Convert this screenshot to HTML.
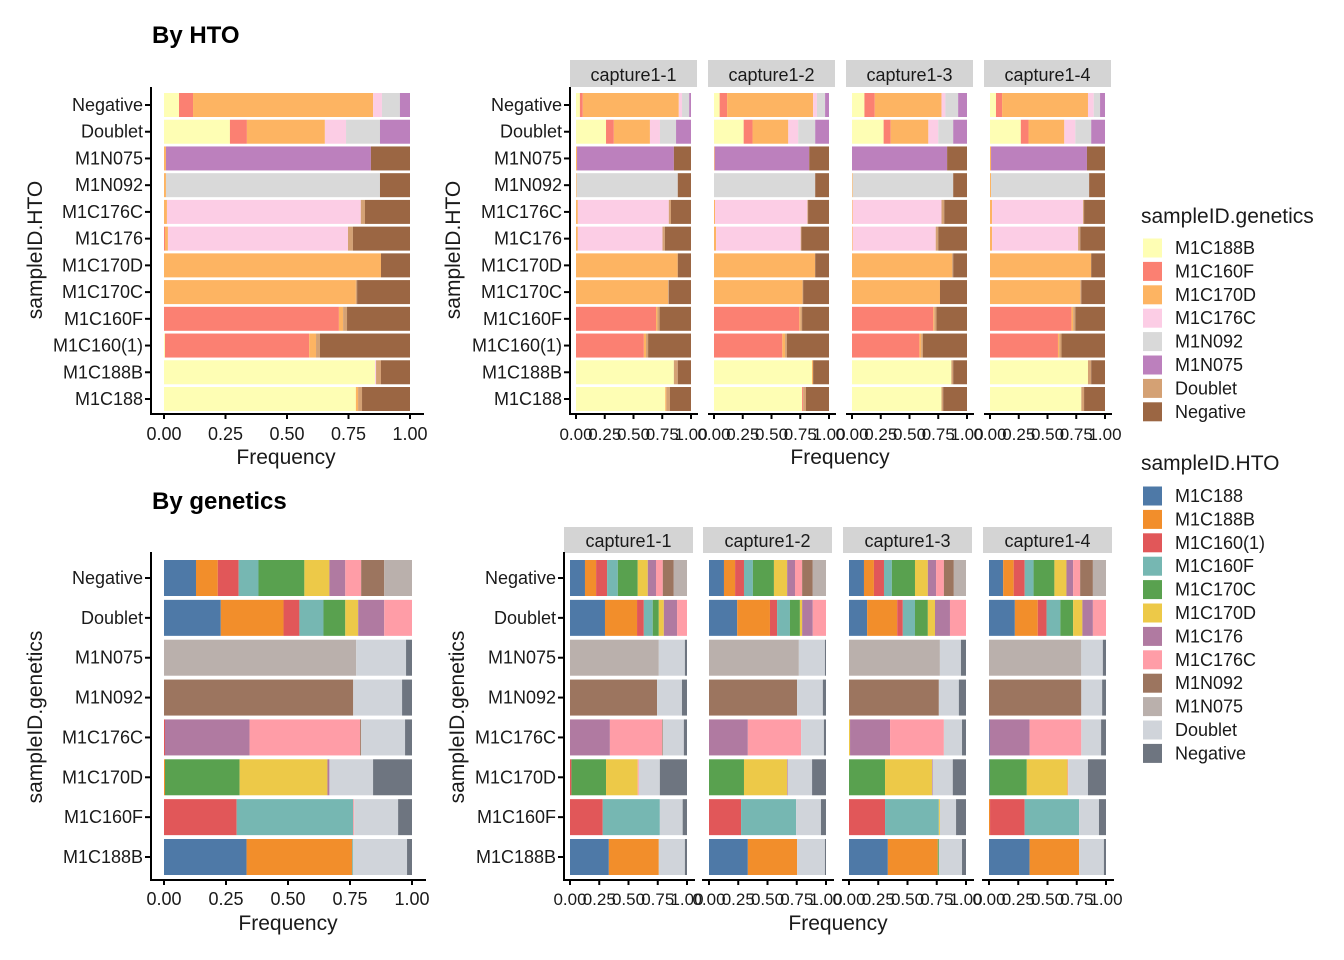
<!DOCTYPE html>
<html><head><meta charset="utf-8"><style>
html,body{margin:0;padding:0;background:#fff;}
svg{display:block;font-family:"Liberation Sans",Arial,sans-serif;}
</style></head><body>
<svg id="chart" width="1344" height="960" viewBox="0 0 1344 960" xmlns="http://www.w3.org/2000/svg">
<rect width="1344" height="960" fill="#fff"/>
<text x="152" y="43" font-size="24" font-weight="bold">By HTO</text>
<text x="152" y="509" font-size="24" font-weight="bold">By genetics</text>
</svg>
<script>
// ---------- categories ----------
const htoRows = ["Negative","Doublet","M1N075","M1N092","M1C176C","M1C176","M1C170D","M1C170C","M1C160F","M1C160(1)","M1C188B","M1C188"];
const genSeries = ["M1C188B","M1C160F","M1C170D","M1C176C","M1N092","M1N075","Doublet","Negative"];
const genColors = ["#FEFEB4","#FB8072","#FDB462","#FCCDE5","#D9D9D9","#BC80BD","#D4A174","#9B6643"];
const genRows = ["Negative","Doublet","M1N075","M1N092","M1C176C","M1C170D","M1C160F","M1C188B"];
const htoSeries = ["M1C188","M1C188B","M1C160(1)","M1C160F","M1C170C","M1C170D","M1C176","M1C176C","M1N092","M1N075","Doublet","Negative"];
const htoColors = ["#4E79A7","#F28E2B","#E15759","#76B7B2","#59A14F","#EDC948","#B07AA1","#FF9DA7","#9C755F","#BAB0AC","#D0D4DA","#6E7580"];
const facetNames = ["capture1-1","capture1-2","capture1-3","capture1-4"];
const xTicks = [0,0.25,0.5,0.75,1];
const xTickLabels = ["0.00","0.25","0.50","0.75","1.00"];

// ---------- By HTO: rows x genetics series ----------
const htoAll = [
[.061,.057,.732,.036,.073,.041,0,0],[.268,.069,.317,.086,.138,.122,0,0],[0,0,.008,0,0,.833,0,.159],[0,0,.008,0,.87,0,0,.122],
[0,0,.012,.788,0,0,.017,.183],[0,.004,.012,.732,0,0,.02,.232],[0,0,.882,0,0,0,0,.118],[0,0,.78,0,0,0,.005,.215],
[0,.711,.017,0,0,0,.016,.256],[.004,.586,.028,0,0,0,.016,.366],[.858,0,0,.004,0,0,.02,.118],[.78,0,.009,0,0,0,.016,.195]];
const htoCap1 = [
[.034,.025,.835,.028,.062,.016,0,0],[.261,.068,.314,.087,.14,.13,0,0],[0,0,.009,0,0,.842,0,.149],[0,0,.006,0,.879,0,0,.115],
[0,0,.016,.791,0,0,.019,.174],[0,0,.016,.736,0,0,.021,.227],[0,0,.885,0,0,0,0,.115],[0,0,.801,0,0,0,.006,.193],
[0,.696,.012,0,0,0,.019,.273],[0,.59,.019,0,0,0,.018,.373],[.851,0,0,0,0,0,.034,.115],[.776,0,.01,0,0,0,.031,.183]];
const htoCap2 = [
[.049,.065,.748,.033,.071,.034,0,0],[.258,.077,.311,.086,.148,.12,0,0],[0,0,.006,0,0,.822,0,.172],[0,0,0,0,.88,0,0,.12],
[0,0,.009,.803,0,0,.006,.182],[0,0,.018,.736,0,0,.006,.24],[0,0,.88,0,0,0,0,.12],[0,0,.769,0,0,0,.006,.225],
[0,.742,.009,0,0,0,.015,.234],[0,.594,.024,0,0,0,.016,.366],[.852,0,.01,0,0,0,0,.138],[.766,.009,0,0,0,0,.025,.2]];
const htoCap3 = [
[.108,.09,.58,.034,.111,.077,0,0],[.275,.061,.328,.086,.13,.12,0,0],[0,0,0,0,0,.827,0,.173],[0,0,.006,0,.874,0,0,.12],
[0,0,.006,.772,0,0,.024,.198],[0,0,.006,.722,0,0,.022,.25],[0,0,.87,0,0,0,.01,.12],[0,0,.765,0,0,0,0,.235],
[0,.707,.009,0,0,0,.019,.265],[0,.586,.016,0,0,0,.015,.383],[.864,0,0,0,0,0,.016,.12],[.778,0,0,0,0,0,.015,.207]];
const htoCap4 = [
[.052,.053,.747,.05,.055,.043,0,0],[.268,.067,.311,.096,.138,.12,0,0],[0,0,.009,0,0,.834,0,.157],[0,0,.009,0,.853,0,0,.138],
[0,0,.018,.791,0,0,.009,.182],[0,0,.018,.748,0,0,.019,.215],[0,0,.88,0,0,0,0,.12],[0,0,.785,0,0,0,.009,.206],
[0,.708,.015,0,0,0,.019,.258],[0,.591,.012,0,0,0,.019,.378],[.852,0,0,0,0,0,.028,.12],[.794,0,0,0,0,0,.024,.182]];

// ---------- By genetics: rows x HTO series ----------
const genAll = [
[.129,.088,.084,.08,.185,.101,.064,.064,.093,.112,0,0],[.229,.253,.064,.097,.088,.052,.105,.112,0,0,0,0],
[0,0,0,0,0,0,0,0,0,.775,.201,.024],[0,0,0,0,0,0,0,0,.763,0,.197,.04],
[0,0,.004,0,0,0,.341,.446,.004,0,.177,.028],[0,.004,0,0,.301,.354,.008,0,0,0,.176,.157],
[0,0,.293,.47,0,0,0,.004,0,0,.177,.056],[.333,.426,0,.004,0,0,0,0,0,0,.217,.02]];
const genCap1 = [
[.128,.095,.094,.092,.17,.086,.07,.058,.094,.113,0,0],[.299,.274,.058,.076,.052,.043,.113,.085,0,0,0,0],
[0,0,0,0,0,0,0,0,0,.759,.223,.018],[0,0,0,0,0,0,0,0,.744,0,.213,.043],
[0,0,0,0,0,0,.341,.446,.006,0,.18,.027],[0,0,.012,0,.296,.271,0,.009,0,0,.18,.232],
[0,0,.28,.488,0,0,0,0,0,0,.195,.037],[.332,.427,0,0,0,0,0,0,0,0,.223,.018]];
const genCap2 = [
[.128,.095,.076,.076,.18,.113,.067,.061,.091,.113,0,0],[.241,.28,.061,.11,.085,.019,.091,.113,0,0,0,0],
[0,0,0,0,0,0,0,0,0,.768,.223,.009],[0,0,0,0,0,0,0,0,.753,0,.22,.027],
[0,0,0,0,0,0,.332,.455,0,0,.195,.018],[0,0,0,0,.299,.369,.006,0,0,0,.207,.119],
[0,0,.274,.47,0,0,0,0,0,0,.213,.043],[.332,.421,0,0,0,0,0,0,0,0,.238,.009]];
const genCap3 = [
[.128,.085,.086,.067,.198,.11,.07,.067,.085,.104,0,0],[.155,.257,.048,.104,.11,.061,.128,.137,0,0,0,0],
[0,0,0,0,0,0,0,0,0,.777,.18,.043],[0,0,0,0,0,0,0,0,.768,0,.171,.061],
[0,0,0,0,0,.009,.342,.46,0,0,.155,.034],[0,0,0,0,.308,.402,.006,0,0,0,.171,.113],
[0,0,.308,.46,0,.009,0,0,0,0,.138,.085],[.332,.427,0,0,.009,0,0,0,0,0,.198,.034]];
const genCap4 = [
[.121,.09,.094,.076,.178,.103,.057,.06,.109,.112,0,0],[.221,.196,.075,.118,.109,.079,.09,.112,0,0,0,0],
[0,0,0,0,0,0,0,0,0,.789,.184,.027],[0,0,0,0,0,0,0,0,.789,0,.178,.033],
[.006,0,0,0,0,0,.341,.442,0,0,.169,.042],[.006,0,0,0,.317,.348,0,.006,0,0,.169,.154],
[0,.009,.296,.465,0,0,0,0,0,0,.17,.06],[.347,.423,0,0,0,0,0,0,0,0,.212,.018]];

const svg = document.getElementById('chart');
const NS = 'http://www.w3.org/2000/svg';
function mk(tag, attrs, parent){ const e=document.createElementNS(NS,tag); for(const k in attrs) e.setAttribute(k,attrs[k]); (parent||svg).appendChild(e); return e; }
function txt(x,y,s,size,anchor,parent){ const t=mk('text',{x:x,y:y,'font-size':size,'text-anchor':anchor||'start',fill:'#1a1a1a'},parent); t.textContent=s; return t; }

function linScale(d0,d1,r0,r1){ return v => r0 + (v-d0)/(d1-d0)*(r1-r0); }

function drawBars(g, rows, data, colors, series, xs, yc, bh){
  data.forEach((row,i)=>{
    let acc=0;
    row.forEach((v,j)=>{
      if(v<=0) return;
      const x0=xs(acc), x1=xs(acc+v); acc+=v;
      const r=mk('rect',{x:x0,y:yc(i)-bh/2,width:Math.max(0,x1-x0),height:bh,fill:colors[j]},g);
      
      
    });
  });
}

function drawXAxis(g, xs, axX0, axX1, axY, size, ticksY){
  mk('line',{x1:axX0,x2:axX1,y1:axY,y2:axY,stroke:'#000','stroke-width':2},g);
  xTicks.forEach((t,i)=>{
    mk('line',{x1:xs(t),x2:xs(t),y1:axY,y2:axY+5,stroke:'#000','stroke-width':2},g);
    const l=txt(xs(t),ticksY,xTickLabels[i],size,'middle',g);
    
    
  });
}

function drawYAxis(g, rows, yc, axX, top, bottom){
  mk('line',{x1:axX,x2:axX,y1:top,y2:bottom+1,stroke:'#000','stroke-width':2},g);
  rows.forEach((r,i)=>{
    mk('line',{x1:axX-6,x2:axX,y1:yc(i),y2:yc(i),stroke:'#000','stroke-width':2},g);
    const l=txt(axX-8,yc(i)+6,r,18,'end',g);
    
    
  });
}

function panel(name){ const g=mk('g',{});   return g; }

// ---------- Top-left ----------
const ycTop = linScale(0,11,105,399);
{
  const g=panel('hto-overall-panel');
  const xs=linScale(0,1,164,410);
  drawBars(g,htoRows,htoAll,genColors,genSeries,xs,ycTop,24);
  drawYAxis(g,htoRows,ycTop,151,87,414);
  drawXAxis(g,xs,150,424,414,18,440);
  const xt=txt(286,464,'Frequency',21,'middle',g);  
  const yt=txt(0,0,'sampleID.HTO',21,'middle',g); yt.setAttribute('transform','translate(42,250) rotate(-90)');
   
}
// ---------- Top facets ----------
{
  const capData=[htoCap1,htoCap2,htoCap3,htoCap4];
  const strips=[570,708,846,984];
  const g=panel('hto-facet-panels');
  capData.forEach((d,k)=>{
    const sx=strips[k];
    const xs=linScale(0,1,sx+6,sx+121);
    const s=mk('rect',{x:sx,y:60,width:127,height:27,fill:'#D4D4D4'},g);
     
    txt(sx+63.5,81,facetNames[k],18,'middle',g);
    drawBars(g,htoRows,d,genColors,genSeries,xs,ycTop,24);
    drawXAxis(g,xs,sx,sx+128,414,17,440);
  });
  drawYAxis(g,htoRows,ycTop,570,87,414);
  const xt=txt(840,464,'Frequency',21,'middle',g);  
  const yt=txt(0,0,'sampleID.HTO',21,'middle',g); yt.setAttribute('transform','translate(460,250) rotate(-90)');
   
}
// ---------- Bottom-left ----------
const ycBot = linScale(0,7,578,857);
{
  const g=panel('genetics-overall-panel');
  const xs=linScale(0,1,164,412);
  drawBars(g,genRows,genAll,htoColors,htoSeries,xs,ycBot,36);
  drawYAxis(g,genRows,ycBot,151,552,880);
  drawXAxis(g,xs,150,426,880,18,905);
  const xt=txt(288,930,'Frequency',21,'middle',g);  
  const yt=txt(0,0,'sampleID.genetics',21,'middle',g); yt.setAttribute('transform','translate(42,717) rotate(-90)');
   
}
// ---------- Bottom facets ----------
{
  const capData=[genCap1,genCap2,genCap3,genCap4];
  const strips=[564,703,843,983];
  const g=panel('genetics-facet-panels');
  capData.forEach((d,k)=>{
    const sx=strips[k];
    const xs=linScale(0,1,sx+6,sx+123);
    const s=mk('rect',{x:sx,y:527,width:129,height:26,fill:'#D4D4D4'},g);
     
    txt(sx+64.5,547,facetNames[k],18,'middle',g);
    drawBars(g,genRows,d,htoColors,htoSeries,xs,ycBot,36);
    drawXAxis(g,xs,sx-1,sx+131,880,17,905);
  });
  drawYAxis(g,genRows,ycBot,564,552,880);
  const xt=txt(838,930,'Frequency',21,'middle',g);  
  const yt=txt(0,0,'sampleID.genetics',21,'middle',g); yt.setAttribute('transform','translate(464,717) rotate(-90)');
   
}
// ---------- Legends ----------
function legend(title, items, colors, ty, y0, name){
  const g=panel(name);
  txt(1141,ty,title,21,'start',g);
  items.forEach((it,i)=>{
    const y=y0+i*23.4;
    const r=mk('rect',{x:1143,y:y-9.5,width:19,height:19,fill:colors[i]},g);
     
    const t=txt(1175,y+6,it,18,'start',g);
     
  });
}
legend('sampleID.genetics',genSeries,genColors,223,248,'legend-genetics');
legend('sampleID.HTO',htoSeries,htoColors,470,496,'legend-hto');
</script>
</body></html>
